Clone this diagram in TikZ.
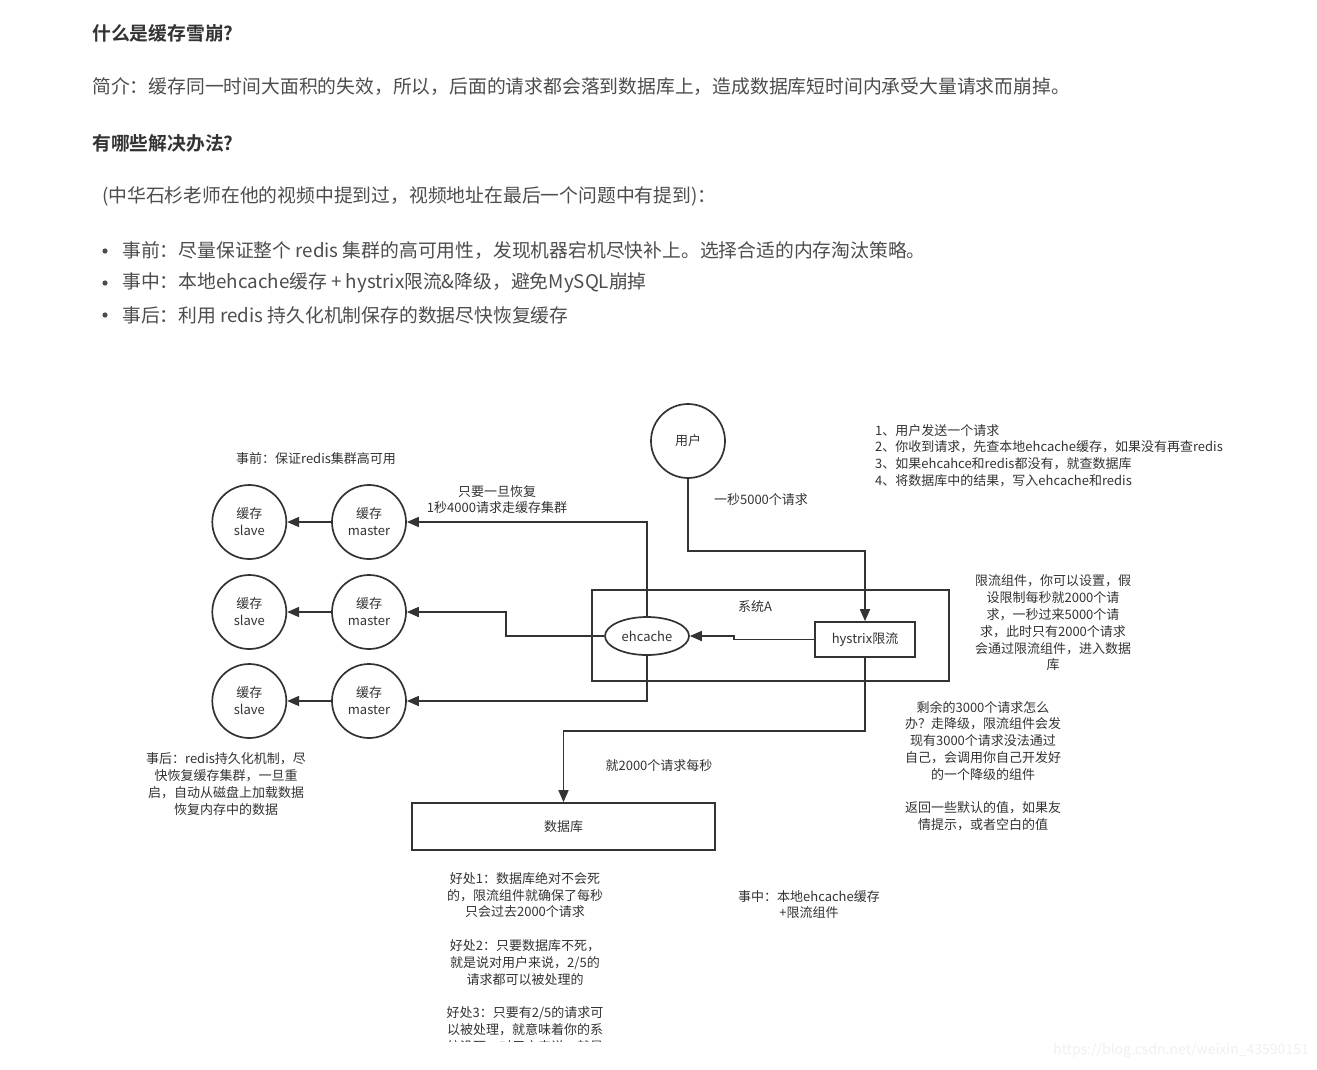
\documentclass[tikz,border=0pt]{standalone}
\usepackage{fontspec}
\setmainfont{Noto Sans CJK SC}[BoldFont={Noto Sans CJK SC Bold}]
\usepackage{tikz}
\usetikzlibrary{arrows.meta, positioning, shapes.geometric}
\definecolor{corLinha}{RGB}{51,51,51}
\definecolor{corTexto}{RGB}{77,77,77}
\definecolor{corMarca}{RGB}{240,240,240}

\begin{document}
\begin{tikzpicture}[x=1pt, y=-1pt, node distance=44pt,
    every node/.style={font=\fontsize{13}{16.8}\selectfont, text=corLinha, inner sep=0pt}]
    \tikzstyle{cache}=[circle, draw=corLinha, line width=1.7pt, minimum size=74pt, align=center]
    \tikzstyle{caixa}=[rectangle, draw=corLinha, line width=1.7pt, align=center]
    \tikzstyle{nota}=[align=center]
    \tikzstyle{seta}=[-{Triangle[length=12pt, width=10pt]}, draw=corLinha, line width=1.7pt]
    \tikzstyle{corpo}=[anchor=west, font=\fontsize{18.8}{22}\selectfont, text=corTexto]
    \tikzstyle{titulo}=[anchor=west, font=\bfseries\fontsize{18.8}{22}\selectfont, text=corLinha]
    \fill[white] (0,0) rectangle (1317,1069);
    % texto do artigo
    \node[titulo] (t1) at (92,33) {什么是缓存雪崩?};
    \node[corpo] (intro) at (92,87) {简介：缓存同一时间大面积的失效，所以，后面的请求都会落到数据库上，造成数据库短时间内承受大量请求而崩掉。};
    \node[titulo] (t2) at (92,143) {有哪些解决办法?};
    \node[corpo] (obs) at (102,196) {(中华石杉老师在他的视频中提到过，视频地址在最后一个问题中有提到)：};
    \fill[corTexto] (105,251) circle (2.6) (105,283) circle (2.6) (105,315) circle (2.6);
    \node[corpo] (b1) at (122,251) {事前：尽量保证整个 redis 集群的高可用性，发现机器宕机尽快补上。选择合适的内存淘汰策略。};
    \node[corpo] (b2) at (122,283) {事中：本地ehcache缓存 + hystrix限流\&降级，避免MySQL崩掉};
    \node[corpo] (b3) at (122,315) {事后：利用 redis 持久化机制保存的数据尽快恢复缓存};
    % diagrama
    \node[cache] (usr) at (688,441) {用户};
    \node[cache] (m1) at (369,522) {缓存\\master};
    \node[cache] (m2) at (369,612) {缓存\\master};
    \node[cache] (m3) at (369,701) {缓存\\master};
    \node[cache, left=of m1] (s1) {缓存\\slave};
    \node[cache, left=of m2] (s2) {缓存\\slave};
    \node[cache, left=of m3] (s3) {缓存\\slave};
    \node[caixa, minimum width=357pt, minimum height=91pt] (sisA) at (770.5,635.5) {};
    \node[nota] (rotA) at (755,607) {系统A};
    \node[ellipse, draw=corLinha, line width=1.7pt, minimum width=84pt, minimum height=38pt] (ehc) at (647,636) {ehcache};
    \node[caixa, minimum width=100pt, minimum height=35pt] (hys) at (865,639.5) {hystrix限流};
    \node[caixa, minimum width=303pt, minimum height=47pt] (db) at (563.5,826.5) {数据库};
    \draw[seta] (usr.south) -- ++(0,72) -| (hys.north);
    \draw[seta] (hys.west) -- ++(-80,0) |- (ehc.east);
    \draw[seta] (hys.south) -- ++(0,73) -| (db.north);
    \draw[seta] (ehc.north) |- (m1.east);
    \draw[seta] (ehc.west) -- ++(-98,0) |- (m2.east);
    \draw[seta] (ehc.south) |- (m3.east);
    \draw[seta] (m1) -- (s1);
    \draw[seta] (m2) -- (s2);
    \draw[seta] (m3) -- (s3);
    % notas
    \node[nota] (antes) at (316,459) {事前：保证redis集群高可用};
    \node[nota] (volta) at (497,499.5) {只要一旦恢复\\1秒4000请求走缓存集群};
    \node[nota] (taxa) at (761,500) {一秒5000个请求};
    \node[anchor=west, align=left] (passos) at (875,455.5) {1、用户发送一个请求\\2、你收到请求，先查本地ehcache缓存，如果没有再查redis\\3、如果ehcahce和redis都没有，就查数据库\\4、将数据库中的结果，写入ehcache和redis};
    \node[nota] (limite) at (1053,623) {限流组件，你可以设置，假\\设限制每秒就2000个请\\求，一秒过来5000个请\\求，此时只有2000个请求\\会通过限流组件，进入数据\\库};
    \node[nota] (resto) at (983,766) {剩余的3000个请求怎么\\办？走降级，限流组件会发\\现有3000个请求没法通过\\自己，会调用你自己开发好\\的一个降级的组件\\[16.8pt]返回一些默认的值，如果友\\情提示，或者空白的值};
    \node[nota] (depois) at (226,784) {事后：redis持久化机制，尽\\快恢复缓存集群，一旦重\\启，自动从磁盘上加载数据\\恢复内存中的数据};
    \node[nota] (vazao) at (659,766) {就2000个请求每秒};
    \node[nota] (meio) at (809,904.5) {事中：本地ehcache缓存\\+限流组件};
    \begin{scope}
      \clip (0,0) rectangle (1317,1041);
      \node[nota] (ganhos) at (525,962.5) {好处1：数据库绝对不会死\\的，限流组件就确保了每秒\\只会过去2000个请求\\[16.8pt]好处2：只要数据库不死，\\就是说对用户来说，2/5的\\请求都可以被处理的\\[16.8pt]好处3：只要有2/5的请求可\\以被处理，就意味着你的系\\统没死，对用户来说，就是};
    \end{scope}
    \node[anchor=east, text=corMarca, font=\fontsize{14}{16}\selectfont] (marca) at (1309,1051) {https://blog.csdn.net/weixin\_43590151};
\end{tikzpicture}
\end{document}
